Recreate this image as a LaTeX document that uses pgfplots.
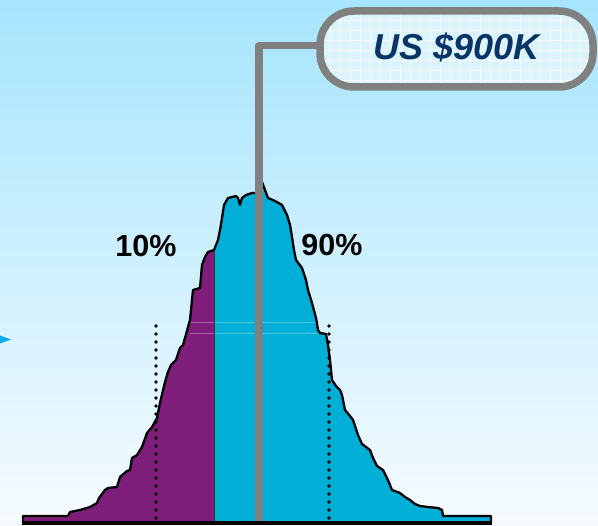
\documentclass[border=0pt]{standalone}
\usepackage{pgfplots}
\pgfplotsset{compat=1.18}
\usepackage{fontspec}
\setmainfont{Liberation Sans}
\definecolor{bgtop}{RGB}{166,229,253}
\definecolor{bgmid}{RGB}{210,242,254}
\definecolor{bgbot}{RGB}{246,251,255}
\definecolor{purp}{RGB}{126,29,122}
\definecolor{cyanf}{RGB}{0,175,216}
\definecolor{grayl}{RGB}{128,128,128}
\definecolor{navy}{RGB}{8,52,104}
\definecolor{boxfill}{RGB}{219,243,253}
\definecolor{arrowblue}{RGB}{0,174,239}
\begin{document}
\begin{tikzpicture}
\begin{axis}[width=598bp,height=526bp,scale only axis,
  xmin=0,xmax=598,ymin=0,ymax=526,y dir=reverse,
  axis lines=none,ticks=none,clip=false,enlargelimits=false,
  axis background/.style={top color=bgtop,middle color=bgmid,bottom color=bgbot}]
% purple part (below 10% ... up to split)
\addplot[fill=purp,draw=none] coordinates {
(23,523) (23,516) (68,516) (70,512) (80,510) (90,507) (97,503) (99,498) (105,490)
(108,488) (117,487) (120,477) (127,471) (130,470) (132,458) (137,455) (142,447)
(147,433) (152,427) (157,418) (160,403) (165,382) (168,372) (171,365) (176,360)
(180,348) (183,345) (190,320) (192,300) (193,290) (200,288) (202,265) (205,257)
(208,252) (214,250) (214,523)};
% cyan part
\addplot[fill=cyanf,draw=none] coordinates {
(214,523) (214,250) (218,240) (220,230) (222,218) (224,205) (228,198) (236,196)
(238,198) (240,205) (242,198) (246,195) (252,193) (256,193) (258,186) (262,182)
(265,190) (268,198) (275,201) (282,205) (287,215) (290,225) (292,237) (294,250)
(296,260) (302,268) (306,280) (308,290) (312,303) (316,318) (318,330) (320,333)
(326,334) (328,345) (330,360) (332,380) (336,386) (340,390) (342,395) (345,410)
(350,416) (353,420) (358,435) (362,444) (370,450) (373,458) (377,466) (383,470)
(387,478) (390,485) (392,490) (400,493) (405,497) (410,500) (415,504) (420,506)
(428,507) (438,508) (442,510) (443,516) (491,516) (491,523)};
% faint light lines across the fill
\addplot[white,opacity=0.3,line width=0.8bp] coordinates {(189,322) (317,322)};
\addplot[white,opacity=0.3,line width=0.8bp] coordinates {(190,333) (320,333)};
% outline
\addplot[black,line width=2.3bp,line join=round] coordinates {
(23,523) (23,516) (68,516) (70,512) (80,510) (90,507) (97,503) (99,498) (105,490)
(108,488) (117,487) (120,477) (127,471) (130,470) (132,458) (137,455) (142,447)
(147,433) (152,427) (157,418) (160,403) (165,382) (168,372) (171,365) (176,360)
(180,348) (183,345) (190,320) (192,300) (193,290) (200,288) (202,265) (205,257)
(208,252) (214,250) (218,240) (220,230) (222,218) (224,205) (228,198) (236,196)
(238,198) (240,205) (242,198) (246,195) (252,193) (256,193) (258,186) (262,182)
(265,190) (268,198) (275,201) (282,205) (287,215) (290,225) (292,237) (294,250)
(296,260) (302,268) (306,280) (308,290) (312,303) (316,318) (318,330) (320,333)
(326,334) (328,345) (330,360) (332,380) (336,386) (340,390) (342,395) (345,410)
(350,416) (353,420) (358,435) (362,444) (370,450) (373,458) (377,466) (383,470)
(387,478) (390,485) (392,490) (400,493) (405,497) (410,500) (415,504) (420,506)
(428,507) (438,508) (442,510) (443,516) (491,516) (491,523)};
% divider at the split
\addplot[black!80,line width=0.8bp] coordinates {(214,251) (214,522)};
% base line
\addplot[black,line width=3.2bp] coordinates {(22,523) (492,523)};
% dotted percentile lines
\addplot[black,line width=3.8bp,line cap=round,dash pattern=on 0bp off 8bp] coordinates {(156,326) (156,518)};
\addplot[black,line width=3.8bp,line cap=round,dash pattern=on 0bp off 8bp] coordinates {(329,326) (329,518)};
% connector to the callout
\addplot[grayl,line width=7.5bp,line join=round] coordinates {(259,521) (259,45.5) (322,45.5)};
% callout box
\fill[boxfill,rounded corners=34bp] (axis cs:320,11) rectangle (axis cs:593,87);
\begin{scope}
\clip[rounded corners=34bp] (axis cs:320,11) rectangle (axis cs:593,87);
\draw[white,line width=0.7bp,opacity=0.8,step=10bp] (axis cs:320,11) grid (axis cs:593,87);
\end{scope}
\draw[grayl,line width=7.5bp,rounded corners=34bp] (axis cs:320,11) rectangle (axis cs:593,87);
\node[anchor=base,inner sep=0pt,text=navy,font=\bfseries\itshape\fontsize{36bp}{40bp}\selectfont] at (axis cs:457,60) {US \$900K};
% percentile labels
\node[anchor=base,inner sep=0pt,font=\bfseries\fontsize{30.5bp}{34bp}\selectfont] at (axis cs:146,256) {10\%};
\node[anchor=base,inner sep=0pt,font=\bfseries\fontsize{30.5bp}{34bp}\selectfont] at (axis cs:332,255) {90\%};
% arrow tip at the left edge
\fill[arrowblue] (axis cs:0,335.5) -- (axis cs:11,339.5) -- (axis cs:0,343.5) -- cycle;
\end{axis}
\end{tikzpicture}
\end{document}
